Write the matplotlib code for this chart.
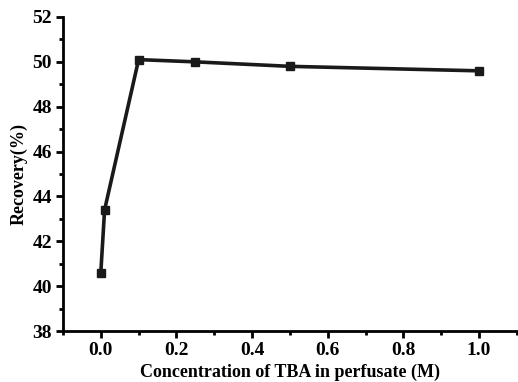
import matplotlib
matplotlib.use("Agg")
import matplotlib.pyplot as plt
from matplotlib.ticker import MultipleLocator

# 数据
conc = [0.0, 0.01, 0.1, 0.25, 0.5, 1.0]
recovery = [40.6, 43.4, 50.1, 50.0, 49.8, 49.6]

plt.rcParams['font.family'] = ['Liberation Serif', 'DejaVu Serif']
plt.rcParams['font.weight'] = 'bold'

fig = plt.figure(figsize=(5.18, 3.82), dpi=100)
ax = fig.add_axes([0.1216, 0.1335, 0.876, 0.822])

ax.plot(conc, recovery, color='#1a1a1a', linewidth=2.6, marker='s', markersize=6)

ax.set_xlim(-0.1, 1.1)
ax.set_ylim(38, 52)
ax.xaxis.set_major_locator(MultipleLocator(0.2))
ax.xaxis.set_minor_locator(MultipleLocator(0.1))
ax.yaxis.set_major_locator(MultipleLocator(2))
ax.yaxis.set_minor_locator(MultipleLocator(1))
ax.set_xticks([0.0, 0.2, 0.4, 0.6, 0.8, 1.0])
ax.set_xticklabels(['0.0', '0.2', '0.4', '0.6', '0.8', '1.0'])

for s in ['top', 'right']:
    ax.spines[s].set_visible(False)
for s in ['left', 'bottom']:
    ax.spines[s].set_linewidth(2)

ax.tick_params(which='major', direction='out', length=5, width=2, labelsize=14, pad=3)
ax.tick_params(which='minor', direction='out', length=3, width=2)

ax.set_xlabel('Concentration of TBA in perfusate (M)', fontsize=13, fontweight='bold', labelpad=3)
ax.set_ylabel('Recovery(%)', fontsize=13, fontweight='bold', labelpad=3)

fig.savefig('out.png', dpi=100)
